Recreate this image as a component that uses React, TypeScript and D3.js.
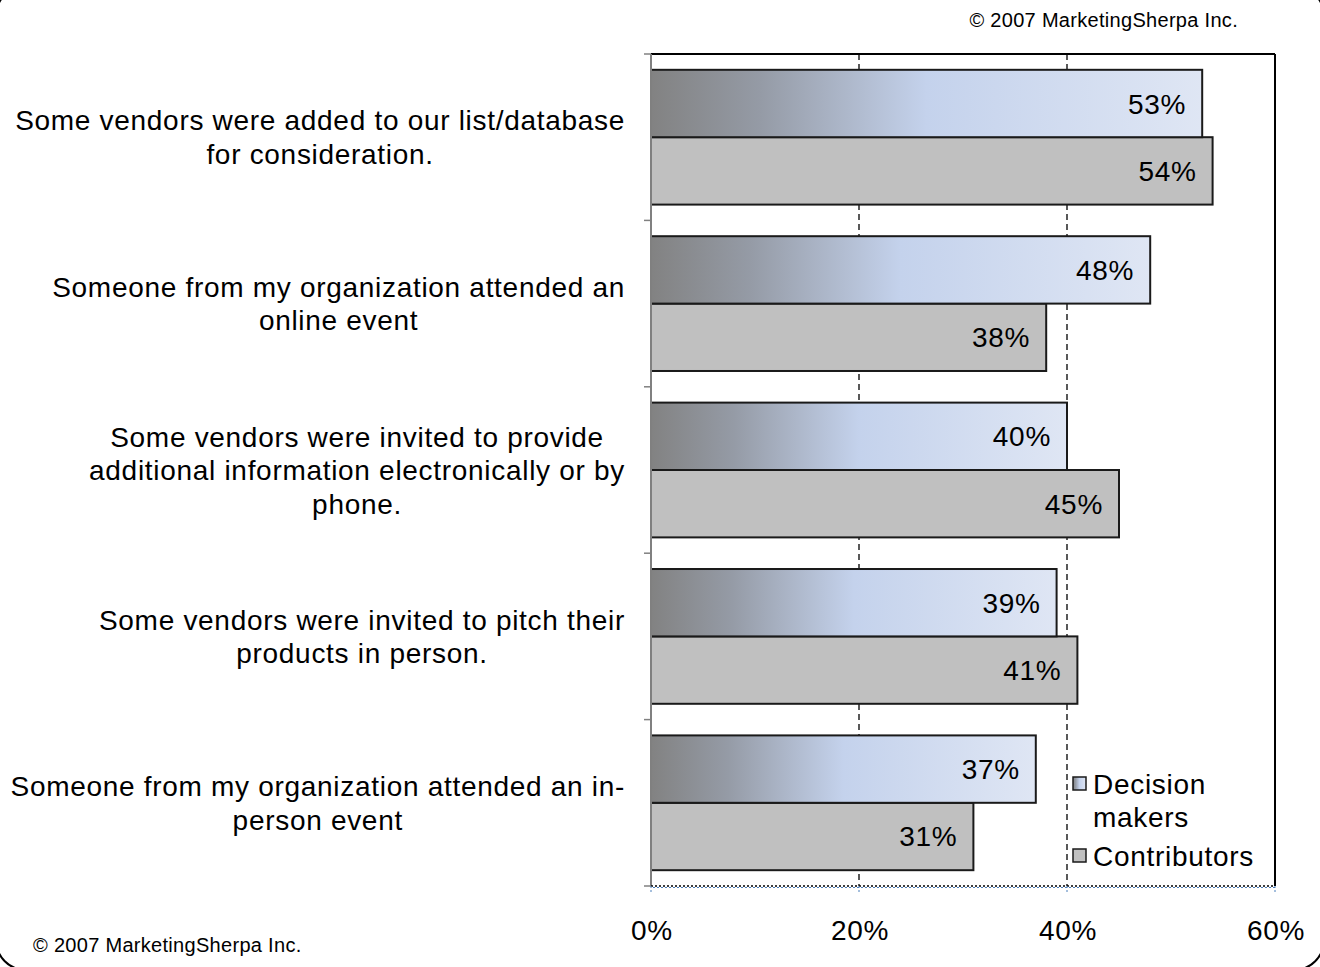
import React, { useEffect, useRef } from "react";
import * as d3 from "d3";

const categories: string[][] = [
  ["Some vendors were added to our list/database", "for consideration."],
  ["Someone from my organization attended an", "online event"],
  ["Some vendors were invited to provide", "additional information electronically or by", "phone."],
  ["Some vendors were invited to pitch their", "products in person."],
  ["Someone from my organization attended an in-", "person event"],
];
const decisionMakers = [53, 48, 40, 39, 37];
const contributors = [54, 38, 45, 41, 31];
const xTicks = [0, 20, 40, 60];
const seriesNames = ["Decision makers", "Contributors"];
const copyright = "© 2007 MarketingSherpa Inc.";

const W = 1320;
const H = 967;
const FONT = "'Liberation Sans', Arial, Helvetica, sans-serif";
const FS = 28;
const LS = 0.7;

export default function App() {
  const ref = useRef<SVGSVGElement>(null);

  useEffect(() => {
    document.body.style.margin = "0";
    const svg = d3.select(ref.current!);
    svg.selectAll("*").remove();

    const left = 651, right = 1275, top = 54, bottom = 886;
    const x = d3.scaleLinear().domain([0, 60]).range([left, right]);
    const y = d3.scaleBand<number>().domain(d3.range(categories.length)).range([top, bottom]).paddingInner(0.19).paddingOuter(0.095);

    const txt = (sel: any, size = FS) =>
      sel.attr("font-family", FONT).attr("font-size", size).attr("letter-spacing", size === FS ? LS : 0.3);

    const defs = svg.append("defs");
    const grad = defs.append("linearGradient").attr("id", "dmGrad").attr("x1", "0").attr("x2", "1").attr("y1", "0").attr("y2", "0");
    grad.append("stop").attr("offset", "0").attr("stop-color", "#828282");
    grad.append("stop").attr("offset", "0.2").attr("stop-color", "#959ba6");
    grad.append("stop").attr("offset", "0.5").attr("stop-color", "#c4d2ec");
    grad.append("stop").attr("offset", "1").attr("stop-color", "#dfe6f4");

    // outer rounded border
    svg.append("rect").attr("x", -4).attr("y", -14).attr("width", 1328).attr("height", 984)
      .attr("rx", 30).attr("fill", "none").attr("stroke", "#000").attr("stroke-width", 2);

    // copyrights
    txt(svg.append("text").attr("x", 1238).attr("y", 27).attr("text-anchor", "end"), 20).text(copyright);
    txt(svg.append("text").attr("x", 33).attr("y", 952), 20).text(copyright);

    // grid lines
    [20, 40].forEach((t) => {
      svg.append("line").attr("x1", x(t)).attr("x2", x(t)).attr("y1", top).attr("y2", bottom)
        .attr("stroke", "#000").attr("stroke-width", 1.3).attr("stroke-dasharray", "6,4");
    });
    // top and right frame
    svg.append("line").attr("x1", left).attr("x2", right).attr("y1", top).attr("y2", top).attr("stroke", "#000").attr("stroke-width", 2);
    svg.append("line").attr("x1", right).attr("x2", right).attr("y1", top).attr("y2", bottom).attr("stroke", "#000").attr("stroke-width", 2);

    // bars
    const bh = y.bandwidth() / 2;
    categories.forEach((_, i) => {
      const y0 = y(i)!;
      svg.append("rect").attr("x", x(0)).attr("y", y0 + bh).attr("width", x(contributors[i]) - x(0)).attr("height", bh)
        .attr("fill", "#c0c0c0").attr("stroke", "#1a1a1a").attr("stroke-width", 2);
      svg.append("rect").attr("x", x(0)).attr("y", y0).attr("width", x(decisionMakers[i]) - x(0)).attr("height", bh)
        .attr("fill", "url(#dmGrad)").attr("stroke", "#1a1a1a").attr("stroke-width", 2);
      txt(svg.append("text").attr("x", x(decisionMakers[i]) - 16).attr("y", y0 + bh / 2 + 10).attr("text-anchor", "end"))
        .text(`${decisionMakers[i]}%`);
      txt(svg.append("text").attr("x", x(contributors[i]) - 16).attr("y", y0 + bh * 1.5 + 10).attr("text-anchor", "end"))
        .text(`${contributors[i]}%`);
    });

    // left axis
    svg.append("line").attr("x1", left).attr("x2", left).attr("y1", top).attr("y2", bottom).attr("stroke", "#808080").attr("stroke-width", 2);
    const bounds = d3.range(categories.length + 1).map((i) => top + (i * (bottom - top)) / categories.length);
    bounds.forEach((b) => {
      svg.append("line").attr("x1", left - 7).attr("x2", left).attr("y1", b).attr("y2", b).attr("stroke", "#808080").attr("stroke-width", 1.5);
    });

    // bottom axis (dotted)
    svg.append("line").attr("x1", left).attr("x2", right).attr("y1", bottom).attr("y2", bottom)
      .attr("stroke", "#000").attr("stroke-width", 1.5).attr("stroke-dasharray", "2,2");
    svg.append("line").attr("x1", left).attr("x2", right).attr("y1", bottom + 1.5).attr("y2", bottom + 1.5)
      .attr("stroke", "#4a7ebb").attr("stroke-width", 1).attr("stroke-dasharray", "2,2").attr("stroke-dashoffset", 2);
    xTicks.forEach((t) => {
      svg.append("line").attr("x1", x(t)).attr("x2", x(t)).attr("y1", bottom).attr("y2", bottom + 8)
        .attr("stroke", "#4a7ebb").attr("stroke-width", 1).attr("stroke-dasharray", "2,2");
      txt(svg.append("text").attr("x", x(t) + 1).attr("y", 940).attr("text-anchor", "middle")).text(`${t}%`);
    });

    // category labels
    const lh = 33.5;
    categories.forEach((lines, i) => {
      const cy = y(i)! + y.bandwidth() / 2;
      const g = svg.append("g");
      const texts = lines.map((ln, j) =>
        txt(g.append("text").attr("text-anchor", "middle").attr("y", cy + (j - (lines.length - 1) / 2) * lh + 10)).text(ln)
      );
      const maxW = d3.max(texts, (t: any) => (t.node() as SVGTextElement).getComputedTextLength()) || 0;
      texts.forEach((t: any) => t.attr("x", 625 - maxW / 2));
    });

    // legend
    const lg = svg.append("g");
    lg.append("rect").attr("x", 1073).attr("y", 777).attr("width", 13).attr("height", 13)
      .attr("fill", "url(#dmGrad)").attr("stroke", "#1a1a1a").attr("stroke-width", 1.5);
    txt(lg.append("text").attr("x", 1093).attr("y", 794)).text("Decision");
    txt(lg.append("text").attr("x", 1093).attr("y", 827)).text("makers");
    lg.append("rect").attr("x", 1073).attr("y", 849).attr("width", 13).attr("height", 13)
      .attr("fill", "#c0c0c0").attr("stroke", "#1a1a1a").attr("stroke-width", 1.5);
    txt(lg.append("text").attr("x", 1093).attr("y", 866)).text(seriesNames[1]);
  }, []);

  return <svg ref={ref} width={W} height={H} style={{ display: "block", background: "#fff" }} />;
}
